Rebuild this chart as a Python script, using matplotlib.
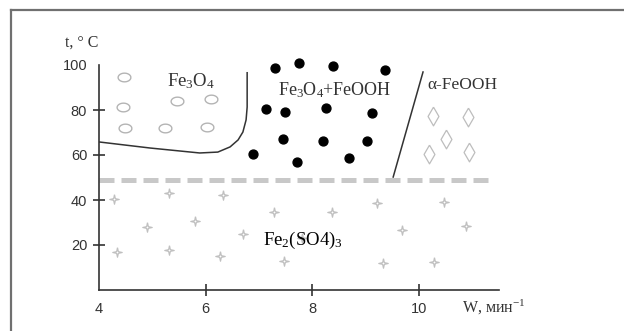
import numpy as np
import matplotlib
matplotlib.use("Agg")
import matplotlib.pyplot as plt
from matplotlib.lines import Line2D

plt.rcParams['mathtext.fontset'] = 'custom'
plt.rcParams['mathtext.rm'] = 'Liberation Serif'
plt.rcParams['mathtext.it'] = 'Liberation Serif:italic'

# phase regions: W (1/min) vs t (deg C)
circ_x = [4.47, 4.45, 4.49, 5.46, 5.24, 6.10, 6.03]
circ_y = [94.7, 81.3, 72.0, 84.0, 72.0, 84.9, 72.4]

dot_x = [7.30, 7.75, 8.39, 9.37, 7.13, 7.49, 8.26, 9.12, 7.45, 8.20, 9.03, 6.89, 7.71, 8.69]
dot_y = [98.7, 100.9, 99.6, 97.8, 80.4, 79.1, 80.9, 78.7, 67.1, 66.2, 66.2, 60.4, 56.9, 58.7]

diam_x = [10.27, 10.92, 10.51, 10.19, 10.94]
diam_y = [77.3, 76.9, 67.1, 60.4, 61.3]

star_x = [4.28, 5.31, 6.33, 4.90, 5.80, 7.28, 6.70, 4.34, 5.31, 6.27, 7.47, 7.81,
          8.37, 9.22, 10.47, 9.68, 10.89, 9.33, 10.29]
star_y = [40.4, 43.1, 42.2, 28.0, 30.7, 34.7, 24.9, 16.9, 17.8, 15.1, 12.9, 23.1,
          34.7, 38.7, 39.1, 26.7, 28.4, 12.0, 12.4]

# boundaries
left_bx = [4.0, 4.96, 5.89, 6.23, 6.46, 6.61, 6.70, 6.76, 6.78, 6.78]
left_by = [65.8, 63.1, 60.9, 61.3, 63.6, 66.7, 70.2, 75.6, 81.3, 96.9]
right_bx = [10.08, 9.52]
right_by = [96.9, 50.2]
dash_y = 49

xticks = [4, 6, 8, 10]
yticks = [20, 40, 60, 80, 100]

fig = plt.figure(figsize=(6.24, 3.31), dpi=100)
ax = fig.add_axes([99/624, 41/331, 399.7/624, 225/331])
ax.set_xlim(4, 11.5)
ax.set_ylim(0, 100)

# custom marker shapes
t = np.linspace(0, 2*np.pi, 40)
ellipse = np.column_stack([np.cos(t), 0.68*np.sin(t)])
diamond = [(0, 1), (0.58, 0), (0, -1), (-0.58, 0), (0, 1)]
star = [(0, 1), (0.18, 0.18), (1, 0), (0.18, -0.18), (0, -1), (-0.18, -0.18), (-1, 0), (-0.18, 0.18), (0, 1)]

ax.plot(circ_x, circ_y, ls='none', marker=ellipse, ms=9.2, mfc='white', mec='#b4b4b4', mew=1.0, clip_on=False)
ax.plot(dot_x, dot_y, ls='none', marker='o', ms=6.4, color='black', clip_on=False)
ax.plot(diam_x, diam_y, ls='none', marker=diamond, ms=13.5, mfc='white', mec='#bdbdbd', mew=0.9)
ax.plot(star_x, star_y, ls='none', marker=star, ms=6.8, mfc='white', mec='#c0c0c0', mew=0.9)

ax.plot(left_bx, left_by, color='#333333', lw=1.1, solid_capstyle='butt')
ax.plot(right_bx, right_by, color='#333333', lw=1.1)
ax.plot([4, 11.39], [dash_y, dash_y], color='#c8c8c8', lw=3.6, ls=(0, (3, 1.4)))

# labels inside the plot
ax.text(5.28, 93, r'Fe$_{\mathrm{3}}$O$_{\mathrm{4}}$', family='Liberation Serif', fontsize=13.5,
        color='#333333', va='center')
ax.text(7.36, 89, r'Fe$_{\mathrm{3}}$O$_{\mathrm{4}}$+FeOOH', family='Liberation Serif', fontsize=13,
        color='#333333', va='center')
ax.text(10.17, 91, 'α-FeOOH', family='Liberation Serif', fontsize=12.5, color='#333333', va='center')
ax.text(7.08, 20, r'Fe$_{\mathrm{2}}$(SO4)$_{\mathrm{3}}$', family='Liberation Serif', fontsize=13.5,
        color='black', va='baseline')

# axes styling
for s in ['top', 'right']:
    ax.spines[s].set_visible(False)
for s in ['left', 'bottom']:
    ax.spines[s].set_color('#333333')
    ax.spines[s].set_linewidth(1.2)
ax.set_xticks(xticks)
ax.set_yticks(yticks)
ax.tick_params(direction='inout', length=8, width=1.2, color='#333333',
               labelsize=10.5, labelcolor='#333333', pad=4.5)
for lab in ax.get_xticklabels() + ax.get_yticklabels():
    lab.set_family('Liberation Sans')
ax.xaxis.get_major_ticks()[0].tick1line.set_visible(False)
ax.yaxis.get_major_ticks()[-1].tick1line.set_visible(False)

fig.text(65/624, 1 - 43/331, 't, ° C', family='Liberation Serif', fontsize=11.5,
         color='#333333', va='center')
fig.text(462/624, 1 - 307/331, 'W, мин$^{\\mathrm{-1}}$', family='Liberation Serif', fontsize=11.5,
         color='#333333', va='center')

# outer frame (left and top edges only)
fig.add_artist(Line2D([11/624, 11/624], [0, 1 - 10/331], color='#707070', lw=1.6))
fig.add_artist(Line2D([11/624, 1], [1 - 10/331, 1 - 10/331], color='#707070', lw=1.6))

fig.savefig('out.png', dpi=100)
